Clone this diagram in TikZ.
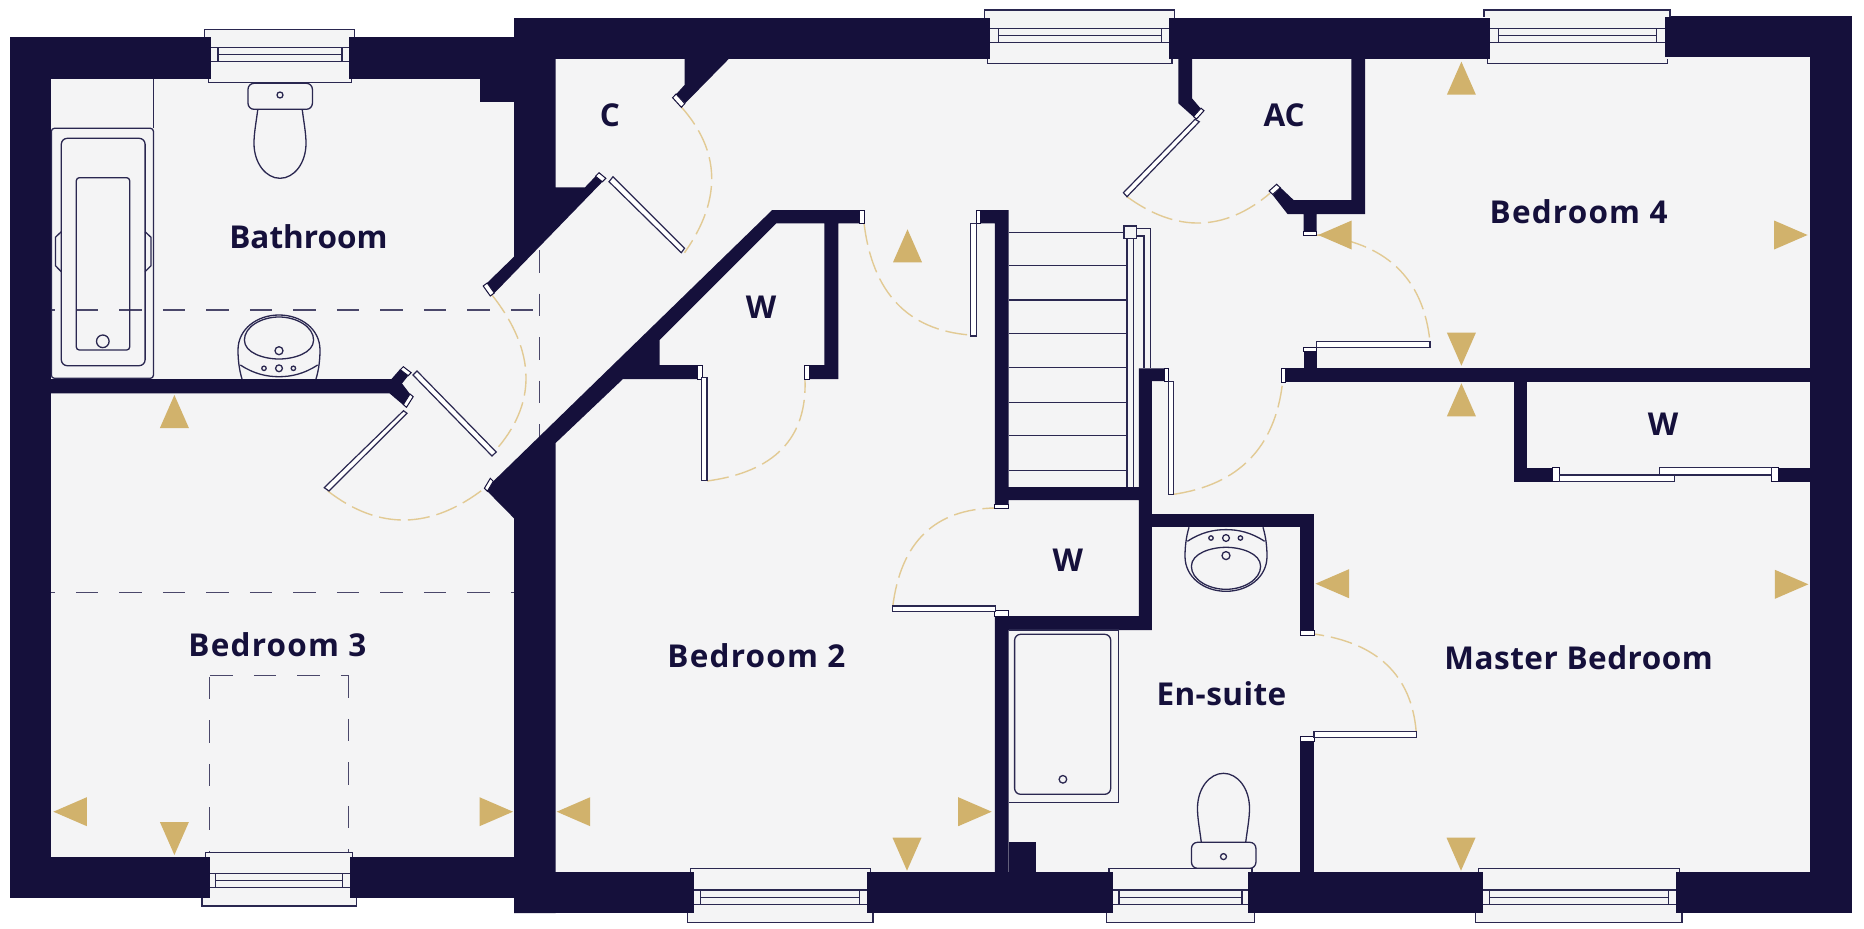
\documentclass[tikz,border=0pt]{standalone}
\usepackage{fontspec}
\setmainfont{Open Sans}
\definecolor{wall}{HTML}{15103B}
\definecolor{floorc}{HTML}{F4F4F5}
\definecolor{gold}{HTML}{D1B26C}
\definecolor{fine}{HTML}{2A2750}
\definecolor{swing}{HTML}{E2CA94}
\tikzset{
  wallfill/.style={fill=wall,draw=none},
  capbox/.style={fill=white,draw=wall,line width=1pt},
  leafbox/.style={fill=white,draw=fine,line width=1.2pt},
  fineline/.style={draw=fine,line width=1.3pt},
  sill/.style={draw=fine,line width=1.3pt},
  swingline/.style={draw=swing,line width=1.4pt,dash pattern=on 22pt off 7pt},
  hidden/.style={draw=fine!85!white,line width=1.1pt,dash pattern=on 22.5pt off 21pt},
  arrowtri/.style={fill=gold,draw=none},
  roomlabel/.style={anchor=base,text=wall,font=\bfseries\fontsize{31.5}{31.5}\selectfont,inner sep=0pt},
}
\newcommand\wrect[4]{\fill[wallfill] (#1,#2) rectangle (#3,#4);}
\newcommand\capr[4]{\draw[capbox] (#1,#2) rectangle (#3,#4);}
\newcommand\capd[6]{\draw[capbox] (#1,#2) -- (#3,#4) -- ({#3+#5},{#4+#6}) -- ({#1+#5},{#2+#6}) -- cycle;}
\newcommand\leafr[4]{\draw[leafbox] (#1,#2) rectangle (#3,#4);}
\newcommand\triup[2]{\fill[arrowtri] (#1,#2) -- ({#1+14.5},{#2+33}) -- ({#1-14.5},{#2+33}) -- cycle;}
\newcommand\tridown[2]{\fill[arrowtri] (#1,#2) -- ({#1+14.5},{#2-33}) -- ({#1-14.5},{#2-33}) -- cycle;}
\newcommand\trileft[2]{\fill[arrowtri] (#1,#2) -- ({#1+33.5},{#2-14.5}) -- ({#1+33.5},{#2+14.5}) -- cycle;}
\newcommand\triright[2]{\fill[arrowtri] (#1,#2) -- ({#1-33.5},{#2-14.5}) -- ({#1-33.5},{#2+14.5}) -- cycle;}
\newcommand\doorarc[6]{%
  \pgfmathsetmacro\qx{2*#3-(#1+#5)/2}\pgfmathsetmacro\qy{2*#4-(#2+#6)/2}%
  \draw[swingline] (#1,#2) .. controls ({#1+2/3*(\qx-#1)},{#2+2/3*(\qy-#2)}) and ({#5+2/3*(\qx-#5)},{#6+2/3*(\qy-#6)}) .. (#5,#6);}
\newcommand\wingap[4]{\fill[floorc] (#1,#2) rectangle (#3,#4);}
% frame: x1, far y, x2, y at the wall face; open towards the wall
\newcommand\winframe[4]{\fill[floorc] (#1,#2) rectangle (#3,#4);\draw[sill] (#1,#4) -- (#1,#2) -- (#3,#2) -- (#3,#4);}
\newcommand\winsash[6]{\draw[fineline] (#1,#3) -- (#2,#3) (#1,#5) -- (#2,#5) (#4,#3) -- (#4,#5) (#6,#3) -- (#6,#5);
  \draw[fineline] (#4,{(#3+#5)/2}) -- (#6,{(#3+#5)/2});}
\newcommand\basinshape{%
  \draw[fineline] (-37,0) .. controls (-40,-10) and (-41,-20) .. (-41,-29) .. controls (-41,-50) and (-22,-64) .. (0,-64) .. controls (22,-64) and (41,-50) .. (41,-29) .. controls (41,-20) and (40,-10) .. (37,0);
  \draw[fineline] (-34.6,-39) .. controls (-34.6,-52) and (-18,-62) .. (0,-62) .. controls (18,-62) and (34.6,-52) .. (34.6,-39) .. controls (34.6,-26) and (15,-20) .. (0,-20) .. controls (-15,-20) and (-34.6,-26) .. (-34.6,-39) -- cycle;
  \draw[fineline] (-38.6,-14) .. controls (-25,-5) and (-12,-2.3) .. (0,-2.3) .. controls (12,-2.3) and (25,-5) .. (38.6,-14);
  \draw[fineline] (0,-28.3) circle (4) (-15,-10.7) circle (2.2) (0,-10.7) circle (3.4) (14.4,-10.7) circle (2.2);}
\newcommand\toiletshape{%
  \draw[fineline,rounded corners=6pt] (-32,0) rectangle (32.4,26);
  \draw[fineline] (0,11.7) circle (3);
  \draw[fineline] (-22.2,26) .. controls (-24,40) and (-26,50) .. (-26,60) .. controls (-26,80) and (-14,95) .. (0,95) .. controls (14,95) and (26,80) .. (26,60) .. controls (26,50) and (24,40) .. (22.2,26);}
\begin{document}
\begin{tikzpicture}[x=1pt,y=-1pt]
\useasboundingbox (0,0) rectangle (1864,929);
\fill[white] (0,0) rectangle (1864,929);
% floor
\fill[floorc] (9.5,37.3) rectangle (520,898.3);
\fill[floorc] (514,18) rectangle (1851.6,913);
% hidden lines
\draw[hidden,dash phase=19pt] (51.4,310) -- (539.7,310);
\draw[hidden] (539.7,250) -- (539.7,446);
\draw[hidden,dash phase=19pt] (51.4,592.3) -- (514,592.3);
\draw[hidden] (210.4,675.3) -- (348.4,675.3);
\draw[hidden] (348.4,675.3) -- (348.4,852);
\draw[hidden,dash phase=42pt] (209.6,675.3) -- (209.6,852);
% door swings
\doorarc{681.3}{107}{711.7}{176.7}{684.5}{252.7}
\doorarc{492}{295}{526}{376.7}{494.3}{451.7}
\doorarc{327.8}{491}{405.3}{520}{484.4}{488.3}
\doorarc{707}{481}{782}{449}{805}{380}
\doorarc{864}{223}{896.8}{303.3}{970}{335}
\doorarc{1127}{196.7}{1200}{223}{1270}{193.3}
\doorarc{1316.7}{235}{1396.6}{267}{1430}{341.7}
\doorarc{1173.6}{494.3}{1249.9}{459}{1282.6}{382}
\doorarc{892.8}{606}{924.5}{533.3}{995}{508}
\doorarc{1416.2}{731.7}{1387.1}{665}{1314}{634}
% outer walls
\wrect{9.5}{37.3}{514}{79}
\wrect{9.5}{37.3}{51.4}{898.3}
\wrect{9.5}{856.7}{514}{898.3}
\wrect{480}{79}{514}{102.3}
\wrect{514}{18.3}{1490.4}{59.3}
\wrect{1490.4}{15.7}{1851.6}{57.3}
\wrect{1810}{15.7}{1851.6}{913.3}
\wrect{514}{872.3}{1851.6}{913.3}
% diagonal wall by the cupboard
\fill[wallfill] (514,18.3) -- (555.6,18.3) -- (555.6,187.3) -- (585,187.3) -- (599,172.7) -- (605.8,178.3) -- (494.5,293) -- (487,283) -- (514,256.7) -- cycle;
\capd{599}{172.7}{605.8}{178.3}{-3.5}{3.5}
\capd{483.2}{286}{490.3}{296}{4}{-3}
% cupboard nib at top
\fill[wallfill] (684.5,59) -- (728.7,59) -- (685.2,103.3) -- (676.1,94.3) -- (684.5,85) -- cycle;
\capd{672.6}{97.7}{681.3}{107.3}{3.5}{-3.7}
% bathroom / bedroom 3 wall
\fill[wallfill] (51,379) -- (391.5,379) -- (400,369.3) -- (408,376) -- (402,383.5) -- (410,394) -- (403.3,405) -- (389.5,393.3) -- (51,393.3) -- cycle;
\capd{403.3}{366.7}{411.2}{372.7}{-3}{3}
\capd{406.5}{407.3}{413.2}{396.7}{-3.2}{-2.7}
% long diagonal wall and bedroom 2 wardrobe
\fill[wallfill] (514,518.3) -- (487.4,491.3) -- (493.3,481.3) -- (772.2,210) -- (859.2,210) -- (859.2,223.3) -- (838.3,223.3) -- (838.3,379) -- (809,379) -- (809,365) -- (824.4,365) -- (824.4,223.3) -- (776.2,223.3) -- (659.5,340) -- (659.5,365) -- (697,365) -- (697,379) -- (623,379) -- (555.6,443) -- (555.6,913) -- (514,913) -- cycle;
\capd{484.4}{488.3}{490.3}{478.3}{3}{3}
\capr{859.2}{210}{864}{223.3}
\capr{804.3}{365}{809}{379}
\capr{697}{365}{702}{379}
% stair and wardrobe walls
\fill[wallfill] (980.6,210) -- (1008.7,210) -- (1008.7,487) -- (1138.8,487) -- (1138.8,368.3) -- (1164.5,368.3) -- (1164.5,381) -- (1151.8,381) -- (1151.8,630) -- (1008.7,630) -- (1008.7,872.3) -- (994.8,872.3) -- (994.8,616) -- (1138.8,616) -- (1138.8,500) -- (1008.7,500) -- (1008.7,504) -- (994.8,504) -- (994.8,223.3) -- (980.6,223.3) -- cycle;
\capr{976.7}{210}{980.6}{223.3}
\capr{1164.5}{368.3}{1168.4}{381}
\capr{994.8}{504}{1008.7}{508.3}
\capr{994.8}{610.7}{1008.7}{616}
\wrect{1008.7}{842.3}{1036}{872.3}
% en-suite walls
\wrect{1151.8}{514}{1314}{527.3}
\wrect{1300.4}{514}{1314}{630.7}
\capr{1300.4}{630.7}{1314}{635}
\wrect{1300.4}{741}{1314}{872.3}
\capr{1300.4}{736.7}{1314}{741}
% airing cupboard walls
\fill[wallfill] (1178.3,59) -- (1192,59) -- (1192,98.3) -- (1200.5,108.3) -- (1194,117.3) -- (1178.3,103.3) -- cycle;
\capd{1196.5}{119}{1204}{110.7}{-3}{-2.5}
\fill[wallfill] (1351.3,57) -- (1365.2,57) -- (1365.2,214) -- (1316.7,214) -- (1316.7,231) -- (1303.6,231) -- (1303.6,214) -- (1287.5,214) -- (1272.7,195) -- (1280.6,187.7) -- (1293.6,200) -- (1351.3,200) -- cycle;
\capd{1269}{191}{1276.6}{184.3}{3.7}{3.4}
\capr{1303.6}{231}{1316.7}{235}
% bedroom 4 / master wall, wardrobe
\wrect{1285}{368.3}{1810}{382.3}
\capr{1281}{368.3}{1285}{382.3}
\wrect{1303.6}{351.7}{1316.7}{368.3}
\capr{1303.6}{347.3}{1316.7}{351.7}
\wrect{1514}{382}{1527.4}{481.7}
\wrect{1514}{467.7}{1552.7}{481.7}
\capr{1552.7}{467.7}{1559.6}{481.7}
\wrect{1778.4}{467.7}{1810}{481.7}
\capr{1771.5}{467.7}{1778.4}{481.7}
% door leaves
\draw[leafbox] (609,181.7) -- (613,176.7) -- (684.5,248.3) -- (681.3,252.7) -- cycle;
\draw[leafbox] (413,375) -- (417,371) -- (496.2,452) -- (492,456) -- cycle;
\draw[leafbox] (403.5,410.7) -- (407,413.3) -- (329,491) -- (324.2,487.7) -- cycle;
\leafr{701.8}{377.3}{707}{480.7}
\leafr{970.7}{223.3}{976.7}{336}
\draw[leafbox] (1199.3,121.7) -- (1195,119.3) -- (1123.4,192.7) -- (1127,196.7) -- cycle;
\leafr{1316.7}{341.7}{1430}{347.7}
\leafr{1168.4}{381.7}{1173.6}{494.3}
\leafr{892.8}{606}{995.6}{611.7}
\leafr{1314}{731.7}{1416.2}{737.3}
\leafr{1559.6}{475}{1674.2}{481.7}
\leafr{1659.6}{467.7}{1771.5}{475}
% windows
\wingap{211}{37.3}{349}{79}
\winframe{204.4}{29.3}{354.7}{37.3}
\winframe{208.4}{82.7}{351.5}{79}
\winsash{211}{349}{47.7}{218}{61.7}{342}
\wingap{989.7}{18.3}{1168.8}{59.3}
\winframe{984.6}{10}{1174.8}{18.3}
\winframe{987.7}{63.3}{1172}{59.3}
\winsash{989.7}{1168.8}{28.3}{998.4}{42.7}{1161.7}
\wingap{1490.4}{15.7}{1664.6}{59.3}
\winframe{1484}{10}{1670}{17}
\winframe{1487.4}{63.3}{1667.2}{59.3}
\winsash{1490.4}{1664.6}{28.3}{1498.3}{42.3}{1656.7}
\wingap{209.6}{856.7}{349.5}{898.3}
\winframe{205.2}{852.3}{352.3}{856.7}
\winframe{202}{906}{356.3}{898.3}
\winsash{209.6}{349.5}{873.3}{215.5}{887.7}{342.8}
\wingap{694}{872.3}{867}{913.3}
\winframe{690.4}{868.3}{870.3}{872.3}
\winframe{687.2}{922.3}{873}{913.3}
\winsash{694}{867}{890}{700.3}{904.3}{859.2}
\wingap{1113}{872.3}{1248}{913.3}
\winframe{1109}{868.3}{1252}{872.3}
\winframe{1106.4}{922.3}{1254.7}{913.3}
\winsash{1113}{1248}{890}{1119}{904.3}{1242}
\wingap{1482.5}{872.3}{1675.5}{913.3}
\winframe{1478.6}{868.3}{1679.4}{872.3}
\winframe{1475.5}{922.3}{1682}{913.3}
\winsash{1482.5}{1675.5}{890}{1489.2}{904.3}{1668.8}
% stairs
\foreach \ty in {232.3,265.7,300,333.3,367.7,402.3,435.3,470.7}
  \draw[fineline] (1008.7,\ty) -- (1127,\ty);
\draw[fineline] (1127,238) -- (1127,487) (1133.3,238) -- (1133.3,487);
\draw[fineline] (1137,228.3) -- (1150.6,228.3) -- (1150.6,368.3);
\draw[fineline] (1137,236) -- (1144,236) -- (1144,368.3);
\draw[sill,fill=floorc] (1124,226) rectangle (1136.8,238.3);
% bathroom bath
\draw[fineline] (153.4,79) -- (153.4,128.3);
\draw[fineline,rounded corners=3pt] (51.4,128.3) rectangle (153.4,378.3);
\draw[fineline] (61.3,231.7) -- (55.4,237.3) -- (55.4,265.7) -- (61.3,271.7);
\draw[fineline] (145.1,231.7) -- (151,237.3) -- (151,265.7) -- (145.1,271.7);
\draw[fineline,rounded corners=6pt] (61.3,138.3) rectangle (145.1,365.7);
\draw[fineline,rounded corners=3pt] (76.3,177.7) rectangle (129.7,350);
\draw[fineline] (102.8,341.3) circle (6.3);
% en-suite bath
\draw[fineline] (1008.7,630) -- (1118.2,630) -- (1118.2,802.7) -- (1008.7,802.7);
\draw[fineline,rounded corners=6pt] (1014.6,634.3) rectangle (1110.7,794.3);
\draw[fineline] (1062.9,779.3) circle (3.8);
% sanitary ware
\begin{scope}[shift={(280,83.3)}]\toiletshape\end{scope}
\begin{scope}[shift={(1223.5,868.3)},yscale=-1]\toiletshape\end{scope}
\begin{scope}[shift={(279,379)}]\basinshape\end{scope}
\begin{scope}[shift={(1226,527.3)},yscale=-1]\basinshape\end{scope}
% direction markers
\triup{174.4}{395}
\triup{907.5}{229.3}
\triup{1461.4}{61.7}
\triup{1461.4}{383.3}
\tridown{1461.4}{365.7}
\tridown{174.4}{855}
\tridown{907}{870.7}
\tridown{1461}{870.7}
\triright{1807.6}{235}
\triright{513}{811.7}
\triright{991.7}{811.7}
\triright{1808.4}{584.3}
\trileft{1318.2}{235}
\trileft{53.4}{811.7}
\trileft{556.7}{811.7}
\trileft{1315.5}{583.7}
% labels
\node[roomlabel] (bath) at (308.4,248.3) {Bathroom};
\node[roomlabel] (bed3) at (277.4,656) {\addfontfeature{LetterSpace=3.8}Bedroom 3};
\node[roomlabel] (bed2) at (756.4,667.3) {\addfontfeature{LetterSpace=3.8}Bedroom 2};
\node[roomlabel] (bed4) at (1578.6,223.3) {\addfontfeature{LetterSpace=3.8}Bedroom 4};
\node[roomlabel] (master) at (1578.6,669.3) {\addfontfeature{LetterSpace=1.6}Master Bedroom};
\node[roomlabel] (ensuite) at (1221.4,705) {\addfontfeature{LetterSpace=1.4}En-suite};
\node[roomlabel] (cup) at (610,126) {C};
\node[roomlabel] (ac) at (1284.2,126) {AC};
\node[roomlabel] (wa) at (761.2,318.3) {W};
\node[roomlabel] (wb) at (1663,435.7) {W};
\node[roomlabel] (wc) at (1067.8,571) {W};
\end{tikzpicture}
\end{document}
